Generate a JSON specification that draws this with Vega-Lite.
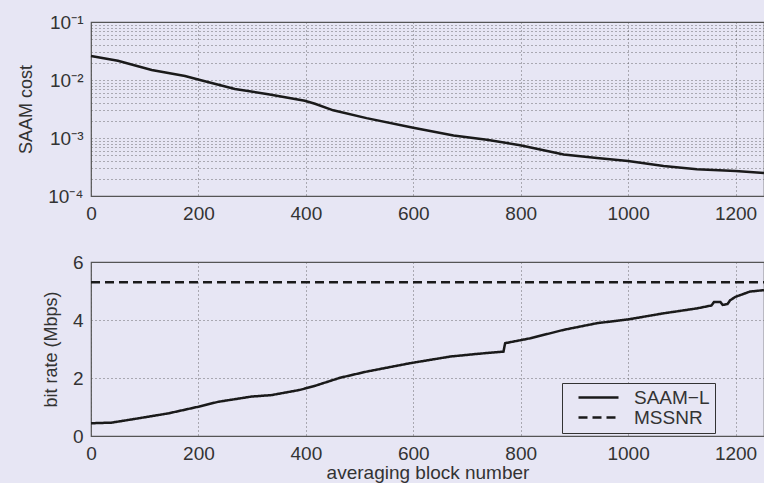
{
  "$schema": "https://vega.github.io/schema/vega-lite/v6.json",
  "background": "#e7e6f4",
  "padding": {"left": 17, "top": 12, "right": 0, "bottom": 0},
  "spacing": 28,
  "config": {
    "view": {"stroke": "#555555", "strokeWidth": 1.2, "fill": "#e7e6f4"},
    "font": "Liberation Sans",
    "axis": {
      "labelFont": "Liberation Sans", "labelFontSize": 19, "labelColor": "#333333",
      "titleFont": "Liberation Sans", "titleFontSize": 18, "titleFontWeight": "normal", "titleColor": "#333333",
      "domain": false, "ticks": false, "grid": true, "gridColor": "#555555", "gridDash": [1, 3], "gridWidth": 1, "gridOpacity": 0.85,
      "labelPadding": 8, "labelFlush": false, "labelOverlap": false, "labelBound": false
    }
  },
  "datasets": {
    "cost": [
      {"x": 0, "cost": 0.026}, {"x": 50, "cost": 0.0215}, {"x": 113, "cost": 0.0149}, {"x": 175, "cost": 0.0117},
      {"x": 203, "cost": 0.0100}, {"x": 268, "cost": 0.0070}, {"x": 330, "cost": 0.0057}, {"x": 398, "cost": 0.0044},
      {"x": 417, "cost": 0.0039}, {"x": 451, "cost": 0.0030}, {"x": 513, "cost": 0.0022}, {"x": 600, "cost": 0.0015},
      {"x": 675, "cost": 0.0011}, {"x": 737, "cost": 0.00093}, {"x": 799, "cost": 0.00075}, {"x": 880, "cost": 0.00052},
      {"x": 942, "cost": 0.00045}, {"x": 1000, "cost": 0.00040}, {"x": 1066, "cost": 0.00033}, {"x": 1128, "cost": 0.00029},
      {"x": 1200, "cost": 0.00027}, {"x": 1253, "cost": 0.00025}
    ],
    "rate": [
      {"x": 0, "rate": 0.44, "series": "SAAM−L"}, {"x": 38, "rate": 0.46, "series": "SAAM−L"}, {"x": 82, "rate": 0.59, "series": "SAAM−L"},
      {"x": 144, "rate": 0.78, "series": "SAAM−L"}, {"x": 200, "rate": 1.01, "series": "SAAM−L"}, {"x": 237, "rate": 1.18, "series": "SAAM−L"},
      {"x": 299, "rate": 1.36, "series": "SAAM−L"}, {"x": 336, "rate": 1.41, "series": "SAAM−L"}, {"x": 389, "rate": 1.59, "series": "SAAM−L"},
      {"x": 417, "rate": 1.73, "series": "SAAM−L"}, {"x": 464, "rate": 2.01, "series": "SAAM−L"}, {"x": 513, "rate": 2.22, "series": "SAAM−L"},
      {"x": 594, "rate": 2.51, "series": "SAAM−L"}, {"x": 669, "rate": 2.74, "series": "SAAM−L"}, {"x": 724, "rate": 2.84, "series": "SAAM−L"},
      {"x": 768, "rate": 2.91, "series": "SAAM−L"}, {"x": 771, "rate": 3.20, "series": "SAAM−L"}, {"x": 818, "rate": 3.37, "series": "SAAM−L"},
      {"x": 880, "rate": 3.66, "series": "SAAM−L"}, {"x": 942, "rate": 3.89, "series": "SAAM−L"}, {"x": 1000, "rate": 4.02, "series": "SAAM−L"},
      {"x": 1066, "rate": 4.23, "series": "SAAM−L"}, {"x": 1128, "rate": 4.40, "series": "SAAM−L"}, {"x": 1155, "rate": 4.50, "series": "SAAM−L"},
      {"x": 1160, "rate": 4.62, "series": "SAAM−L"}, {"x": 1172, "rate": 4.62, "series": "SAAM−L"}, {"x": 1176, "rate": 4.52, "series": "SAAM−L"},
      {"x": 1185, "rate": 4.55, "series": "SAAM−L"}, {"x": 1190, "rate": 4.68, "series": "SAAM−L"}, {"x": 1200, "rate": 4.80, "series": "SAAM−L"},
      {"x": 1227, "rate": 4.98, "series": "SAAM−L"}, {"x": 1253, "rate": 5.03, "series": "SAAM−L"},
      {"x": 0, "rate": 5.3, "series": "MSSNR"}, {"x": 1253, "rate": 5.3, "series": "MSSNR"}
    ]
  },
  "vconcat": [
    {
      "width": 673, "height": 174,
      "data": {"name": "cost"},
      "mark": {"type": "line", "color": "#1a1a1a", "strokeWidth": 2.5},
      "encoding": {
        "x": {"field": "x", "type": "quantitative", "scale": {"domain": [0, 1253], "nice": false},
              "axis": {"values": [0, 200, 400, 600, 800, 1000, 1200], "format": "d", "title": null}},
        "y": {"field": "cost", "type": "quantitative", "scale": {"type": "log", "domain": [0.0001, 0.1], "nice": false},
              "axis": {"title": "SAAM cost", "titlePadding": 12,
                "values": [0.0001, 0.0002, 0.0003, 0.0004, 0.0005, 0.0006, 0.0007, 0.0008, 0.0009,
                           0.001, 0.002, 0.003, 0.004, 0.005, 0.006, 0.007, 0.008, 0.009,
                           0.01, 0.02, 0.03, 0.04, 0.05, 0.06, 0.07, 0.08, 0.09, 0.1],
                "labelExpr": "abs(datum.value-0.1)<1e-9 ? '10⁻¹' : abs(datum.value-0.01)<1e-10 ? '10⁻²' : abs(datum.value-0.001)<1e-11 ? '10⁻³' : abs(datum.value-0.0001)<1e-12 ? '10⁻⁴' : ''"}}
      }
    },
    {
      "width": 673, "height": 174,
      "data": {"name": "rate"},
      "mark": {"type": "line", "color": "#1a1a1a", "strokeWidth": 2.5},
      "encoding": {
        "x": {"field": "x", "type": "quantitative", "scale": {"domain": [0, 1253], "nice": false},
              "axis": {"values": [0, 200, 400, 600, 800, 1000, 1200], "format": "d", "title": "averaging block number", "titleFontSize": 19, "titlePadding": 0}},
        "y": {"field": "rate", "type": "quantitative", "scale": {"domain": [0, 6], "nice": false},
              "axis": {"values": [0, 2, 4, 6], "title": "bit rate (Mbps)", "titlePadding": 12}},
        "strokeDash": {"field": "series", "type": "nominal",
              "scale": {"domain": ["SAAM−L", "MSSNR"], "range": [[1, 0], [9, 5]]},
              "legend": {"orient": "none", "legendX": 471, "legendY": 361, "title": null,
                "strokeColor": "#333333", "fillColor": "#e7e6f4", "padding": 5,
                "labelFont": "Liberation Sans", "labelFontSize": 19, "labelColor": "#333333", "labelOffset": 26,
                "symbolType": "M-2.5,0H2.5", "symbolSize": 256, "symbolOffset": 22, "symbolStrokeWidth": 2.5, "symbolStrokeColor": "#1a1a1a",
                "rowPadding": 0}}
      }
    }
  ]
}
